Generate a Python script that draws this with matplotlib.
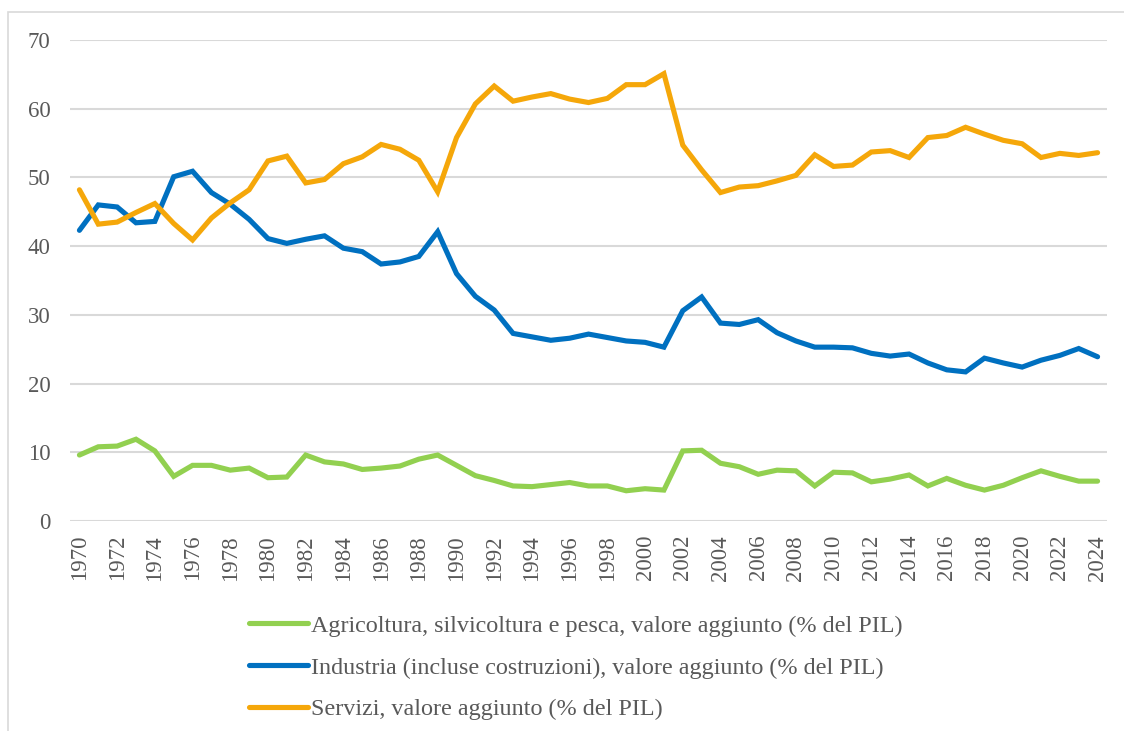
import matplotlib
matplotlib.use("Agg")
import matplotlib.pyplot as plt
from matplotlib.patches import Rectangle

years = list(range(1970, 2025))

agricoltura = [9.6, 10.8, 10.9, 11.9, 10.2, 6.5, 8.1, 8.1, 7.4, 7.7,
               6.3, 6.4, 9.6, 8.6, 8.3, 7.5, 7.7, 8.0, 9.0, 9.6,
               8.1, 6.6, 5.9, 5.1, 5.0, 5.3, 5.6, 5.1, 5.1, 4.4,
               4.7, 4.5, 10.2, 10.3, 8.4, 7.9, 6.8, 7.4, 7.3, 5.1,
               7.1, 7.0, 5.7, 6.1, 6.7, 5.1, 6.2, 5.2, 4.5, 5.2,
               6.3, 7.3, 6.5, 5.8, 5.8]

industria = [42.3, 46.0, 45.7, 43.4, 43.6, 50.1, 50.9, 47.8, 46.1, 43.9,
             41.1, 40.4, 41.0, 41.5, 39.7, 39.2, 37.4, 37.7, 38.5, 42.1,
             36.0, 32.7, 30.7, 27.3, 26.8, 26.3, 26.6, 27.2, 26.7, 26.2,
             26.0, 25.3, 30.6, 32.6, 28.8, 28.6, 29.3, 27.4, 26.2, 25.3,
             25.3, 25.2, 24.4, 24.0, 24.3, 23.0, 22.0, 21.7, 23.7, 23.0,
             22.4, 23.4, 24.1, 25.1, 23.9]

servizi = [48.2, 43.2, 43.5, 44.9, 46.2, 43.3, 40.9, 44.1, 46.3, 48.2,
           52.4, 53.1, 49.2, 49.7, 52.0, 53.0, 54.8, 54.1, 52.5, 47.9,
           55.8, 60.7, 63.3, 61.1, 61.7, 62.2, 61.4, 60.9, 61.5, 63.5,
           63.5, 65.1, 54.7, 51.1, 47.8, 48.6, 48.8, 49.5, 50.3, 53.3,
           51.6, 51.8, 53.7, 53.9, 52.9, 55.8, 56.1, 57.3, 56.3, 55.4,
           54.9, 52.9, 53.5, 53.2, 53.6]

labels = ["Agricoltura, silvicoltura e pesca, valore aggiunto (% del PIL)",
          "Industria (incluse costruzioni), valore aggiunto (% del PIL)",
          "Servizi, valore aggiunto (% del PIL)"]
colors = ["#92D050", "#0070C0", "#F5A70A"]
yticks = [0, 10, 20, 30, 40, 50, 60, 70]
xticks = list(range(1970, 2025, 2))

txt = "#595959"
plt.rcParams['font.family'] = ['Liberation Serif', 'DejaVu Serif']

fig = plt.figure(figsize=(11.24, 7.31), dpi=100)
ax = fig.add_axes([70/1124, 1-521/731, (1107-70)/1124, (521-40)/731])

for series, lab, col in zip([agricoltura, industria, servizi], labels, colors):
    ax.plot(years, series, color=col, lw=3.7, label=lab, solid_joinstyle='miter',
            solid_capstyle='round')

ax.set_xlim(1969.5, 2024.5)
ax.set_ylim(0, 70)
ax.set_yticks(yticks)
ax.set_xticks(xticks)
ax.set_xticklabels([str(x) for x in xticks], rotation=90)
ax.grid(axis='y', color='#D9D9D9', lw=1.5)
ax.set_axisbelow(True)
for s in ax.spines.values():
    s.set_visible(False)
ax.tick_params(axis='both', length=0, labelsize=16.5, colors=txt)
ax.tick_params(axis='y', pad=14)
ax.tick_params(axis='x', pad=10)

leg = fig.legend(loc='upper left', bbox_to_anchor=(249/1124, 1-615/731),
                 frameon=False, fontsize=17.4, handlelength=2.45,
                 handletextpad=0.12, labelspacing=0.82, borderaxespad=0,
                 borderpad=0)
for t in leg.get_texts():
    t.set_color(txt)

fig.patches.append(Rectangle((8/1124, -0.1), 1.2, 1 - 12/731 + 0.1,
                             transform=fig.transFigure, fill=False,
                             edgecolor='#D9D9D9', lw=1.2))

fig.savefig("out.png", dpi=100, facecolor='white')
